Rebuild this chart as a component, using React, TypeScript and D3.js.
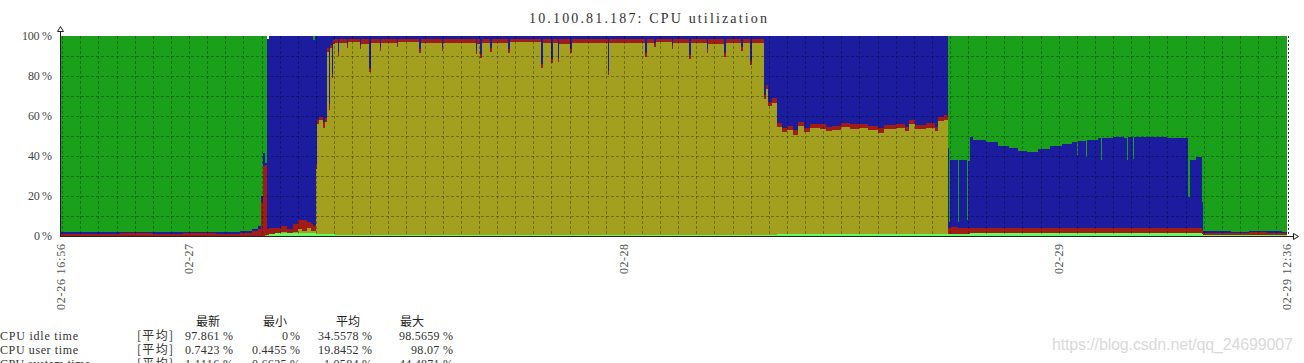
import React from "react";
import * as d3 from "d3";

const W = 1304;
const H = 363;
const left = 61;
const right = 1287;
const top = 36;
const bottom = 236;

// sample times (2020), values in % per item, stacked bottom -> top
const times = [
  // 02-26 evening .. spike before user load
  "02-26 16:56", "02-26 18:30", "02-26 20:10", "02-26 22:00", "02-26 23:40", "02-27 01:30", "02-27 02:50",
  "02-27 03:30", "02-27 03:50", "02-27 03:57", "02-27 04:06", "02-27 04:12", "02-27 04:19", "02-27 04:24",
  // user load
  "02-27 04:45", "02-27 05:05", "02-27 05:25", "02-27 05:45", "02-27 06:00", "02-27 06:15", "02-27 06:30",
  "02-27 06:45", "02-27 06:52", "02-27 06:58",
  // iowait ramp
  "02-27 07:00", "02-27 07:03", "02-27 07:12", "02-27 07:22", "02-27 07:30", "02-27 07:38", "02-27 07:43",
  "02-27 07:48", "02-27 07:53", "02-27 07:58",
  // iowait plateau with dips
  "02-27 08:05",
  "02-27 08:13", "02-27 08:18", "02-27 08:42", "02-27 08:47", "02-27 09:26", "02-27 09:31", "02-27 09:57", "02-27 10:02",
  "02-27 10:32", "02-27 10:37", "02-27 11:28", "02-27 11:33", "02-27 12:43", "02-27 12:48", "02-27 13:57", "02-27 14:02",
  "02-27 15:49", "02-27 15:54", "02-27 16:04", "02-27 16:09", "02-27 16:37", "02-27 16:42", "02-27 17:37", "02-27 17:42",
  "02-27 19:26", "02-27 19:31", "02-27 19:59", "02-27 20:04", "02-27 20:21", "02-27 20:26", "02-27 21:02", "02-27 21:07",
  "02-27 23:07", "02-27 23:12",
  "02-28 01:10", "02-28 01:15", "02-28 01:40", "02-28 01:45", "02-28 02:38", "02-28 02:43", "02-28 03:36", "02-28 03:41",
  "02-28 04:34", "02-28 04:39", "02-28 05:32", "02-28 05:37", "02-28 06:28", "02-28 06:33", "02-28 06:58", "02-28 07:03",
  // step down
  "02-28 07:44", "02-28 07:52", "02-28 07:58", "02-28 08:10", "02-28 08:27",
  // half iowait
  "02-28 08:45", "02-28 09:00", "02-28 09:20", "02-28 09:35", "02-28 09:55", "02-28 10:15", "02-28 10:50", "02-28 11:10",
  "02-28 11:30", "02-28 12:00", "02-28 12:30", "02-28 13:00", "02-28 13:30", "02-28 14:00", "02-28 14:20", "02-28 15:00",
  "02-28 15:30", "02-28 15:45", "02-28 16:05", "02-28 16:40", "02-28 17:10", "02-28 17:20", "02-28 17:40",
  // idle returns
  "02-28 17:53", "02-28 17:56", "02-28 18:00", "02-28 18:25", "02-28 18:29", "02-28 18:56", "02-28 19:00", "02-28 19:06",
  // user ~45%
  "02-28 19:15", "02-28 20:00", "02-28 20:40", "02-28 21:15", "02-28 21:45", "02-28 22:15", "02-28 22:50", "02-28 23:30",
  "02-29 00:10", "02-29 00:45", "02-29 01:00", "02-29 01:05", "02-29 01:30", "02-29 01:35", "02-29 02:10", "02-29 02:20",
  "02-29 02:25", "02-29 03:00", "02-29 03:35", "02-29 03:45", "02-29 03:50", "02-29 04:05", "02-29 04:10", "02-29 05:00",
  "02-29 06:00", "02-29 07:08", "02-29 07:16", "02-29 07:35", "02-29 07:53", "02-29 07:58",
  // idle
  "02-29 08:30", "02-29 09:30", "02-29 10:30", "02-29 11:30", "02-29 12:20", "02-29 12:36",
];

const softirqTime = [
  0, 0, 0, 0, 0, 0, 0,
  0, 0, 0, 0, 0, 0.5, 1,
  1.5, 1.5, 1.5, 1.5, 1.5, 1.5, 1.5,
  1.5, 1.5, 1.5,
  1.5, 1, 1, 1, 1, 1, 1,
  1, 1, 0.8,
  0.7,
  0.7, 0.7, 0.7, 0.7, 0.7, 0.7, 0.7, 0.7,
  0.7, 0.7, 0.7, 0.7, 0.7, 0.7, 0.7, 0.7,
  0.7, 0.7, 0.7, 0.7, 0.7, 0.7, 0.7, 0.7,
  0.7, 0.7, 0.7, 0.7, 0.7, 0.7, 0.7, 0.7,
  0.7, 0.7,
  0.7, 0.7, 0.7, 0.7, 0.7, 0.7, 0.7, 0.7,
  0.7, 0.7, 0.7, 0.7, 0.7, 0.7, 0.7, 0.7,
  0.7, 0.7, 0.7, 0.7, 1.2,
  1.2, 1.2, 1.2, 1.2, 1.2, 1.2, 1.2, 1.2,
  1.2, 1.2, 1.2, 1.2, 1.2, 1.2, 1.2, 1.2,
  1.2, 1.2, 1.2, 1.2, 1.2, 1.2, 1.2,
  1, 1, 1, 1, 1, 1, 1, 1.5,
  1.5, 1.5, 1.5, 1.5, 1.5, 1.5, 1.5, 1.5,
  1.5, 1.5, 1.5, 1.5, 1.5, 1.5, 1.5, 1.5,
  1.5, 1.5, 1.5, 1.5, 1.5, 1.5, 1.5, 1.5,
  1.5, 1.5, 1.5, 1.5, 1, 0.5,
  0.5, 0.4, 0.5, 0.4, 0.3, 0.3,
];

const iowaitTime = [
  0, 0, 0, 0, 0, 0, 0,
  0, 0, 0, 0, 0.5, 0, 0,
  0, 0.5, 0, 0.5, 2, 1, 2.5,
  1, 1, 1,
  32, 55, 57, 53, 56, 91, 62,
  93, 78, 95.2,
  96.0,
  89.5, 95.8, 93.5, 96.2, 93.0, 95.5, 81.5, 96.0,
  92.0, 95.6, 94.0, 96.1, 91.0, 95.7, 92.0, 95.9,
  90.5, 95.4, 88.5, 96.0, 91.5, 95.7, 91.0, 96.2,
  83.5, 95.6, 86.0, 95.9, 86.5, 95.5, 91.0, 96.0,
  80.0, 95.8,
  89.0, 95.6, 94.0, 96.1, 93.0, 95.7, 88.0, 95.9,
  91.0, 95.5, 89.0, 96.0, 92.0, 95.8, 85.0, 96.0,
  68, 73, 64.5, 66, 53.5,
  51, 52, 49.5, 54, 51, 53, 52.5, 51.5,
  52, 53.5, 52.5, 53, 52, 50.5, 52.5, 53,
  51.5, 55, 52.5, 53, 51.5, 56.5, 57,
  0, 0, 0, 0, 0, 0, 0, 0,
  0, 0, 0, 0, 0, 0, 0, 0,
  0, 0, 0, 0, 0, 0, 0, 0,
  0, 0, 0, 0, 0, 0, 0, 0,
  0, 0, 0, 0, 0, 0,
  0, 0, 0, 0, 0, 0,
];

const systemTime = [
  1.2, 1.0, 1.3, 1.1, 1.4, 1.2, 1.6,
  2.5, 3.5, 17, 35, 35, 3, 3,
  2.5, 3, 2, 4, 4.5, 5.5, 3,
  3.5, 2.5, 3,
  2, 2, 1.5, 3, 2, 2, 3,
  1.5, 2, 2,
  1.8,
  2, 2.0, 2, 1.6, 2, 2.3, 2, 1.8,
  2, 2.2, 2, 1.7, 2, 2.1, 2, 1.9,
  2, 2.4, 2, 1.8, 2, 2.1, 2, 1.6,
  2, 2.2, 2, 1.9, 2, 2.3, 2, 1.8,
  2, 2.0,
  2, 2.2, 2, 1.7, 2, 2.1, 2, 1.9,
  2, 2.3, 2, 1.8, 2, 2.0, 2, 1.8,
  2, 2, 2, 2.5, 2,
  2, 2, 2.5, 2, 2, 2, 2.5, 2,
  2, 2, 2.5, 2, 2, 2.5, 2, 2,
  2, 2, 2, 2.5, 2, 2, 2.5,
  3, 3, 3.5, 3, 3, 3, 3, 2.5,
  2.5, 2.5, 2.5, 2.5, 2.5, 2.5, 2.5, 2.5,
  2.5, 2.5, 2.5, 2.5, 2.5, 2.5, 2.5, 2.5,
  2.5, 2.5, 2.5, 2.5, 2.5, 2.5, 2.5, 2.5,
  2.5, 2.5, 2.5, 2.5, 2, 1.1,
  1.2, 1.0, 1.3, 1.1, 1.1, 1.1,
];

const userTime = [
  0.9, 0.9, 0.8, 0.9, 0.8, 0.9, 0.8,
  0.8, 1.5, 3, 6.5, 1, 95, 96,
  96, 95, 96.5, 94, 92, 92, 93,
  94, 93, 94.5,
  64.5, 42, 40.5, 43, 41, 6, 34,
  4.5, 19, 2,
  1.5,
  7.8, 1.5, 3.8, 1.5, 4.3, 1.5, 15.8, 1.5,
  5.3, 1.5, 3.3, 1.5, 6.3, 1.5, 5.3, 1.5,
  6.8, 1.5, 8.8, 1.5, 5.8, 1.5, 6.3, 1.5,
  13.8, 1.5, 11.3, 1.5, 10.8, 1.5, 6.3, 1.5,
  17.3, 1.5,
  8.3, 1.5, 3.3, 1.5, 4.3, 1.5, 9.3, 1.5,
  6.3, 1.5, 8.3, 1.5, 5.3, 1.5, 12.3, 1.5,
  29.3, 24.3, 32.8, 30.8, 43.3,
  45.8, 44.8, 46.8, 42.8, 45.8, 43.8, 43.8, 45.3,
  44.8, 43.3, 43.8, 43.8, 44.8, 45.8, 44.3, 43.8,
  45.3, 41.8, 44.3, 43.3, 45.3, 40.3, 39.3,
  40, 3, 33.5, 3, 34, 4, 33.5, 45.5,
  44, 43, 41, 40, 38.5, 38, 39.5, 41,
  42, 43, 36.5, 43.5, 35.5, 44, 45, 34,
  45, 45.5, 45, 34, 45.5, 34.5, 45.5, 45.5,
  45, 15.7, 34, 35.5, 14, 0.8,
  0.7, 0.8, 0.7, 0.8, 0.74, 0.74,
];

const idleTime = [
  97.9, 98.1, 97.9, 98.0, 97.8, 97.9, 97.6,
  96.7, 95, 80, 58.5, 63.5, 0, 0,
  0, 0, 0, 0, 0, 0, 0,
  0, 2, 0,
  0, 0, 0, 0, 0, 0, 0,
  0, 0, 0,
  0,
  0, 0, 0, 0, 0, 0, 0, 0,
  0, 0, 0, 0, 0, 0, 0, 0,
  0, 0, 0, 0, 0, 0, 0, 0,
  0, 0, 0, 0, 0, 0, 0, 0,
  0, 0,
  0, 0, 0, 0, 0, 0, 0, 0,
  0, 0, 0, 0, 0, 0, 0, 0,
  0, 0, 0, 0, 0,
  0, 0, 0, 0, 0, 0, 0, 0,
  0, 0, 0, 0, 0, 0, 0, 0,
  0, 0, 0, 0, 0, 0, 0,
  56, 93, 62, 93, 62, 92, 62.5, 50.5,
  52, 53, 55, 56, 57.5, 58, 56.5, 55,
  54, 53, 59.5, 52.5, 60.5, 52, 51, 62,
  51, 50.5, 51, 62, 50.5, 61.5, 50.5, 50.5,
  51, 80.3, 62, 60.5, 83, 97.6,
  97.6, 97.8, 97.5, 97.7, 97.86, 97.86,
];

const seriesKeys = ["softirq", "iowait", "system", "user", "idle"];
const seriesColors = ["#62fc62", "#a2a01e", "#a21c16", "#1c1c9e", "#1aa01a"];

const yTicks = [0, 20, 40, 60, 80, 100];
const xLabels = ["02-26 16:56", "02-27", "02-28", "02-29", "02-29 12:36"];
const xLabelTimes = ["02-26 16:56", "02-27 00:00", "02-28 00:00", "02-29 00:00", "02-29 12:36"];

const legendHeads = ["最新", "最小", "平均", "最大"];
const legendNames = ["CPU idle time", "CPU user time", "CPU system time"];
const legendLast = ["97.861 %", "0.7423 %", "1.1116 %"];
const legendMin = ["0 %", "0.4455 %", "0.6625 %"];
const legendAvg = ["34.5578 %", "19.8452 %", "1.0584 %"];
const legendMax = ["98.5659 %", "98.07 %", "44.4871 %"];

const parse = d3.timeParse("%Y-%m-%d %H:%M");
const toDate = (s: string) => parse("2020-" + s) as Date;

const serif = "'Liberation Serif', 'DejaVu Serif', serif";
const cjk = "'Noto Sans CJK SC', sans-serif";

function Mono({ x, y, text, fill = "#333", anchor = "start" }: any) {
  // fixed 6px cells like the original bitmap font
  const len = text.length * 6;
  const sx = anchor === "end" ? x - len : x;
  return (
    <text x={sx} y={y} fontFamily={serif} fontSize={12} fill={fill}
      textLength={len} lengthAdjust="spacing">{text}</text>
  );
}

export default function App() {
  const rows = times.map((t, i) => ({
    t: toDate(t),
    softirq: softirqTime[i],
    iowait: iowaitTime[i],
    system: systemTime[i],
    user: userTime[i],
    idle: idleTime[i],
  }));

  const start = toDate(times[0]);
  const end = toDate(times[times.length - 1]);
  const x = d3.scaleTime().domain([start, end]).range([left, right]);
  const y = d3.scaleLinear().domain([0, 100]).range([bottom, top]);

  const stacked = d3.stack<any>().keys(seriesKeys)(rows);
  const area = d3.area<any>()
    .x(d => x(d.data.t))
    .y0(d => y(d[0]))
    .y1(d => y(d[1]))
    .curve(d3.curveStepAfter);

  const hours = d3.timeHour.range(start, end).filter(h => +h > +start);
  const hLines = d3.range(10, 100, 10);

  return (
    <svg width={W} height={H} style={{ position: "absolute", left: 0, top: 0, display: "block", background: "#fff" }}>
      <text x={648} y={23} fontFamily={serif} fontSize={14} fill="#333" textAnchor="middle"
        textLength={238} lengthAdjust="spacing">10.100.81.187: CPU utilization</text>

      <g shapeRendering="crispEdges">
        {stacked.map((s, i) => (
          <path key={s.key} d={area(s) || ""} fill={seriesColors[i]} />
        ))}
      </g>

      <g stroke="rgba(0,0,0,0.3)" strokeDasharray="3,2" shapeRendering="crispEdges">
        {hours.map(h => {
          const xx = Math.round(x(h)) + 0.5;
          return <line key={+h} x1={xx} x2={xx} y1={top} y2={bottom} />;
        })}
        {hLines.map(v => (
          <line key={v} x1={left} x2={right} y1={Math.round(y(v)) + 0.5} y2={Math.round(y(v)) + 0.5} />
        ))}
      </g>

      {/* right border */}
      <line x1={1288.5} x2={1288.5} y1={top} y2={bottom} stroke="#333" strokeDasharray="2,2" shapeRendering="crispEdges" />

      {/* axes */}
      <g stroke="#222" fill="none" shapeRendering="crispEdges">
        <line x1={60.5} x2={60.5} y1={31.5} y2={237} />
        <line x1={60} x2={1293.5} y1={236.5} y2={236.5} />
      </g>
      <g stroke="#222" fill="#fff">
        <path d="M57.5,31.5 L63.5,31.5 L60.5,26.5 Z" />
        <path d="M1293.5,233.5 L1293.5,239.5 L1298.5,236.5 Z" />
      </g>

      {yTicks.map(v => (
        <Mono key={v} x={52} y={Math.round(y(v)) + 4} text={`${v} %`} fill="#444" anchor="end" />
      ))}

      {xLabels.map((lab, i) => {
        const xx = Math.round(x(toDate(xLabelTimes[i])));
        const len = lab.length * 6;
        return (
          <text key={lab} transform={`translate(${xx + 4},${244 + len}) rotate(-90)`}
            fontFamily={serif} fontSize={12} fill="#555" textLength={len} lengthAdjust="spacing">{lab}</text>
        );
      })}

      {/* legend */}
      {legendHeads.map((h, i) => (
        <text key={h} x={[196, 263, 336, 400][i]} y={326} fontFamily={cjk} fontSize={12} fill="#222">{h}</text>
      ))}
      {legendNames.map((n, i) => {
        const yy = 340 + i * 14;
        return (
          <g key={n}>
            <Mono x={0} y={yy} text={n} />
            <text x={137} y={yy} fontFamily={cjk} fontSize={12} fill="#333"
              textLength={36} lengthAdjust="spacing">[平均]</text>
            <Mono x={233} y={yy} text={legendLast[i]} anchor="end" />
            <Mono x={300} y={yy} text={legendMin[i]} anchor="end" />
            <Mono x={372} y={yy} text={legendAvg[i]} anchor="end" />
            <Mono x={453} y={yy} text={legendMax[i]} anchor="end" />
          </g>
        );
      })}

      <text x={1052} y={350} fontFamily="'Liberation Sans', Arial, sans-serif" fontSize={16} fill="#dadada"
        textLength={241} lengthAdjust="spacing">https://blog.csdn.net/qq_24699007</text>
    </svg>
  );
}
